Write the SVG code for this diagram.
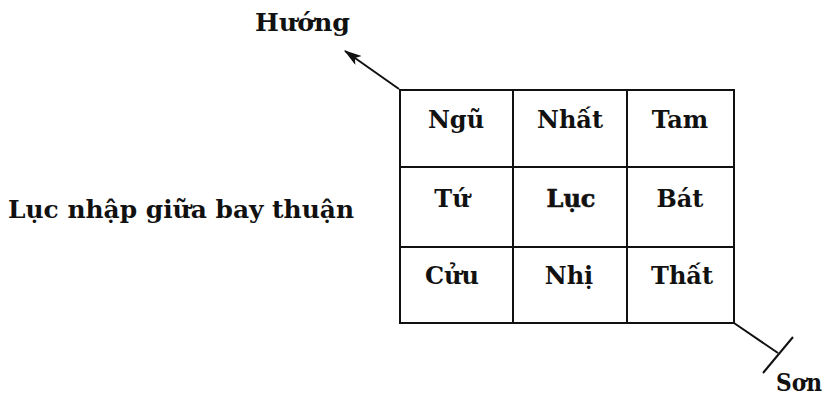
<svg xmlns="http://www.w3.org/2000/svg" width="827" height="403" viewBox="0 0 827 403">
<style>
.t{font-family:"DejaVu Serif","Liberation Serif",serif;font-size:24px;font-weight:bold;fill:#111;}
.c{text-anchor:middle;}
.ln{stroke:#111;stroke-width:2;fill:none;}
</style>
<defs>
<marker id="ah" viewBox="0 0 16 10" refX="15" refY="5" markerWidth="18" markerHeight="11" markerUnits="userSpaceOnUse" orient="auto">
<path d="M0,0 L16,5 L0,10 L4,5 Z" fill="#111"/>
</marker>
</defs>
<rect width="827" height="403" fill="#fff"/>
<g id="grid">
<rect class="ln" x="400" y="90" width="334" height="233"/>
<line class="ln" x1="513" y1="90" x2="513" y2="323"/>
<line class="ln" x1="627" y1="90" x2="627" y2="323"/>
<line class="ln" x1="400" y1="167" x2="734" y2="167"/>
<line class="ln" x1="400" y1="247" x2="734" y2="247"/>
</g>
<g id="cells">
<text class="t c" x="456" y="128">Ngũ</text>
<text class="t c" x="570" y="128">Nhất</text>
<text class="t c" x="680" y="128">Tam</text>
<text class="t c" x="452" y="207">Tứ</text>
<text class="t c" x="571" y="207" stroke="#111" stroke-width="0.6">Lục</text>
<text class="t c" x="680" y="207">Bát</text>
<text class="t c" x="452" y="284">Cửu</text>
<text class="t c" x="569" y="284">Nhị</text>
<text class="t c" x="682" y="284">Thất</text>
</g>
<g id="connectors">
<line class="ln" x1="399" y1="89" x2="345" y2="51" marker-end="url(#ah)"/>
<line class="ln" x1="734" y1="323" x2="778" y2="353"/>
<line class="ln" x1="793" y1="337" x2="763" y2="373"/>
</g>
<g id="labels">
<text class="t" x="255" y="31" textLength="95" lengthAdjust="spacingAndGlyphs">Hướng</text>
<text class="t" x="8" y="218" textLength="346" lengthAdjust="spacingAndGlyphs">Lục nhập giữa bay thuận</text>
<text class="t" x="776" y="391" textLength="46" lengthAdjust="spacingAndGlyphs">Sơn</text>
</g>
</svg>
